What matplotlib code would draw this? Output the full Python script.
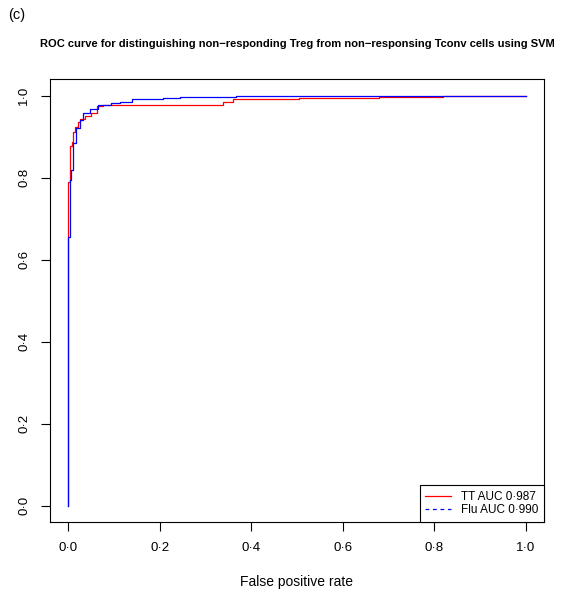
import matplotlib
matplotlib.use("Agg")
import matplotlib.pyplot as plt
from matplotlib.lines import Line2D

plt.rcParams['font.family'] = ['Liberation Sans', 'DejaVu Sans']

# ROC corner points (false positive rate, true positive rate) for each classifier
tt_fpr = [0.0, 0.0, 0.004, 0.008, 0.012, 0.015, 0.022, 0.026, 0.037, 0.050,
          0.063, 0.076, 0.338, 0.360, 0.504, 0.679, 0.819, 1.0]
tt_tpr = [0.0, 0.790, 0.877, 0.888, 0.912, 0.924, 0.937, 0.943, 0.950, 0.958,
          0.975, 0.978, 0.985, 0.991, 0.994, 0.997, 1.0, 1.0]

flu_fpr = [0.0, 0.0, 0.004, 0.007, 0.012, 0.018, 0.026, 0.033, 0.048, 0.066,
           0.095, 0.114, 0.139, 0.207, 0.245, 0.367, 1.0]
flu_tpr = [0.0, 0.656, 0.794, 0.819, 0.885, 0.920, 0.941, 0.957, 0.967, 0.977,
           0.981, 0.985, 0.991, 0.994, 0.996, 1.0, 1.0]

legend_labels = ['TT AUC 0\u00b7987', 'Flu AUC 0\u00b7990']
tick_values = [0.0, 0.2, 0.4, 0.6, 0.8, 1.0]
tick_labels = ['0\u00b70', '0\u00b72', '0\u00b74', '0\u00b76', '0\u00b78', '1\u00b70']

fig = plt.figure(figsize=(5.71, 5.93), dpi=100)
ax = fig.add_axes([0.087, 0.1197, 0.866, 0.7466])

ax.plot(tt_fpr, tt_tpr, drawstyle='steps-post', color='#ff0000', lw=0.9)
ax.plot(flu_fpr, flu_tpr, drawstyle='steps-post', color='#0000ff', lw=0.9)

ax.set_xlim(-0.04, 1.04)
ax.set_ylim(-0.04, 1.04)
ax.set_xticks(tick_values)
ax.set_xticklabels(tick_labels)
ax.set_yticks(tick_values)
ax.set_yticklabels(tick_labels, rotation=90, va='center')
ax.tick_params(axis='both', direction='out', length=6.5, width=0.8, labelsize=9.5)
ax.tick_params(axis='x', pad=8)
ax.tick_params(axis='y', pad=7.5)
for sp in ax.spines.values():
    sp.set_linewidth(0.8)

ax.set_xlabel('False positive rate', fontsize=10, labelpad=15)

handles = [Line2D([], [], color='#ff0000', lw=0.9),
           Line2D([], [], color='#0000ff', lw=0.9, linestyle=(0, (3, 3)))]
leg = ax.legend(handles, legend_labels, loc='lower right', fontsize=8.5,
                borderaxespad=0, fancybox=False, framealpha=1,
                edgecolor='black', handlelength=2.2, labelspacing=0.1,
                borderpad=0.5)
leg.get_frame().set_linewidth(0.8)

ax.set_title('ROC curve for distinguishing non\u2212responding Treg from '
             'non\u2212responsing Tconv cells using SVM',
             fontsize=8.0, fontweight='bold', pad=23)
fig.text(0.014, 0.974, '(c)', ha='left', va='center', fontsize=10.5)

fig.savefig('out.png', dpi=100)
